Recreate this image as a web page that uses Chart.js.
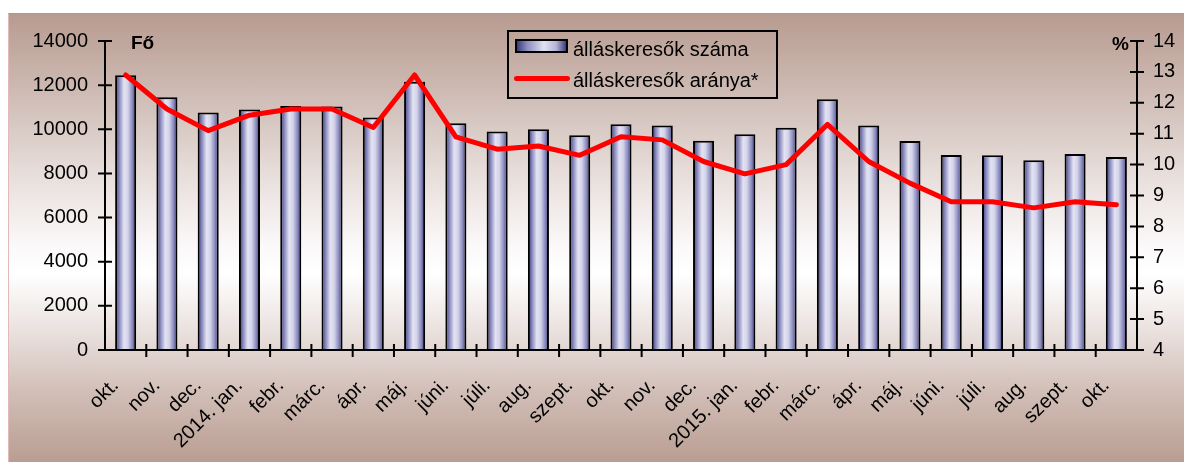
<!DOCTYPE html>
<html>
<head>
<meta charset="utf-8">
<script src="https://cdn.jsdelivr.net/npm/chart.js@4.4.1/dist/chart.umd.min.js"></script>
<style>
  html, body { margin: 0; padding: 0; background: #ffffff; }
  #wrap { position: relative; width: 1184px; height: 462px; overflow: hidden; font-family: "Liberation Sans", Arial, sans-serif; }
  #bg { position: absolute; left: 8px; top: 13px; width: 1176px; height: 449px; box-sizing: border-box;
        border-top: 1px solid #c98c8c; border-left: 1px solid #e2b8b8;
        background: linear-gradient(to bottom, #b89b90 0%, #cdbab3 17%, #e9e0dd 37%, #fbf9f9 52%, #ffffff 58%, #ebe3e0 70%, #d2bfb8 84%, #b99d92 100%); }
  #cv { position: absolute; left: 0; top: 0; }
  .lbl { position: absolute; font-weight: bold; color: #000; font-size: 19px; line-height: 1; }
  #legend { position: absolute; left: 507px; top: 30px; width: 271px; height: 69px; box-sizing: border-box; border: 2px solid #000; }
  .item { position: absolute; left: 0; font-size: 20px; color: #000; line-height: 1; white-space: nowrap; }
  .sw-bar { position: absolute; left: 6px; width: 53px; height: 14px; box-sizing: border-box; border: 2px solid #000;
            background: linear-gradient(to right, #3b3b7c 0%, #8a8abf 20%, #e2e2f2 55%, #b4b4d8 80%, #3b3b7c 100%); }
  .sw-line { position: absolute; left: 5px; width: 56px; height: 5px; border-radius: 3px; background: #ff0000; }
</style>
</head>
<body>
<div id="wrap">
  <div id="bg"></div>
  <canvas id="cv" width="1184" height="462"></canvas>
  <div class="lbl" style="left:131px; top:33px;">Fő</div>
  <div class="lbl" style="left:1112px; top:34px;">%</div>
  <div id="legend">
    <div class="sw-bar" style="top:7px;"></div>
    <div class="item" style="left:64px; top:7px;">álláskeresők száma</div>
    <div class="sw-line" style="top:44px;"></div>
    <div class="item" style="left:64px; top:38px;">álláskeresők aránya*</div>
  </div>
</div>
<script>
const categories = ['okt.','nov.','dec.','2014. jan.','febr.','márc.','ápr.','máj.','júni.','júli.','aug.','szept.','okt.','nov.','dec.','2015. jan.','febr.','márc.','ápr.','máj.','júni.','júli.','aug.','szept.','okt.'];
const jobseekers = [12450, 11450, 10760, 10900, 11050, 11030, 10530, 12150, 10270, 9900, 10000, 9730, 10230, 10170, 9480, 9770, 10070, 11360, 10170, 9470, 8840, 8820, 8600, 8880, 8750];
const rate = [12.9, 11.8, 11.1, 11.6, 11.8, 11.8, 11.2, 12.9, 10.9, 10.5, 10.6, 10.3, 10.9, 10.8, 10.1, 9.7, 10.0, 11.3, 10.1, 9.4, 8.8, 8.8, 8.6, 8.8, 8.7];
const leftTicks = [0, 2000, 4000, 6000, 8000, 10000, 12000, 14000];
const rightTicks = [4, 5, 6, 7, 8, 9, 10, 11, 12, 13, 14];

const FONT = '"Liberation Sans", Arial, sans-serif';
const BAR_PCT = 0.51;

function barGradient(context) {
  const chart = context.chart;
  const xs = chart.scales.x;
  if (!chart.chartArea || !xs) return '#9a9acc';
  const cx = xs.getPixelForValue(context.dataIndex);
  const cw = (chart.chartArea.right - chart.chartArea.left) / categories.length;
  const w = cw * BAR_PCT;
  const g = chart.ctx.createLinearGradient(cx - w / 2, 0, cx + w / 2, 0);
  g.addColorStop(0, '#30306c');
  g.addColorStop(0.18, '#8282b9');
  g.addColorStop(0.42, '#e3e3f3');
  g.addColorStop(0.6, '#d4d4ea');
  g.addColorStop(0.82, '#8a8abf');
  g.addColorStop(1, '#30306c');
  return g;
}

const axesPlugin = {
  id: 'customAxes',
  afterDatasetsDraw(chart) {
    const ctx = chart.ctx;
    const a = chart.chartArea;
    const y = chart.scales.y, y1 = chart.scales.y1, x = chart.scales.x;
    ctx.save();
    ctx.strokeStyle = '#000';
    ctx.lineWidth = 2;
    ctx.beginPath();
    ctx.moveTo(a.left, y.getPixelForValue(leftTicks[leftTicks.length - 1]));
    ctx.lineTo(a.left, y.getPixelForValue(0) + 1);
    leftTicks.forEach(v => { const p = y.getPixelForValue(v); ctx.moveTo(a.left - 7, p); ctx.lineTo(a.left + 7, p); });
    ctx.moveTo(a.right, y1.getPixelForValue(rightTicks[rightTicks.length - 1]));
    ctx.lineTo(a.right, y1.getPixelForValue(rightTicks[0]) + 1);
    rightTicks.forEach(v => { const p = y1.getPixelForValue(v); ctx.moveTo(a.right - 7, p); ctx.lineTo(a.right + 7, p); });
    const base = y.getPixelForValue(0);
    ctx.moveTo(a.left, base);
    ctx.lineTo(a.right, base);
    for (let i = 1; i < categories.length; i++) {
      const p = (x.getPixelForValue(i - 1) + x.getPixelForValue(i)) / 2;
      ctx.moveTo(p, base - 6); ctx.lineTo(p, base + 7);
    }
    ctx.stroke();
    ctx.restore();
  }
};

new Chart(document.getElementById('cv'), {
  data: {
    labels: categories,
    datasets: [
      {
        type: 'line',
        label: 'álláskeresők aránya*',
        data: rate,
        yAxisID: 'y1',
        borderColor: '#ff0000',
        borderWidth: 5,
        pointRadius: 0,
        tension: 0,
        borderCapStyle: 'round',
        borderJoinStyle: 'round',
        order: 0
      },
      {
        type: 'bar',
        label: 'álláskeresők száma',
        data: jobseekers,
        yAxisID: 'y',
        backgroundColor: barGradient,
        borderColor: '#000',
        borderWidth: 2,
        borderSkipped: 'bottom',
        categoryPercentage: 1,
        barPercentage: BAR_PCT,
        order: 1
      }
    ]
  },
  options: {
    responsive: false,
    animation: false,
    events: [],
    layout: { padding: { top: 41, left: 0, right: 0, bottom: 0 } },
    plugins: { legend: { display: false }, tooltip: { enabled: false } },
    scales: {
      x: {
        grid: { display: false, drawTicks: false },
        border: { display: false },
        ticks: { autoSkip: false, maxRotation: 45, minRotation: 45, padding: 24, labelOffset: -10, color: '#000', font: { family: FONT, size: 20 } },
        afterFit(s) { s.height = 112; }
      },
      y: {
        position: 'left',
        min: 0, max: 14000,
        grid: { display: false, drawTicks: false },
        border: { display: false },
        ticks: { stepSize: 2000, padding: 17, color: '#000', font: { family: FONT, size: 20 }, callback: v => String(v) },
        afterFit(s) { s.width = 105; }
      },
      y1: {
        position: 'right',
        min: 4, max: 14,
        grid: { display: false, drawTicks: false },
        border: { display: false },
        ticks: { stepSize: 1, padding: 16, color: '#000', font: { family: FONT, size: 20 }, callback: v => String(v) },
        afterFit(s) { s.width = 47; }
      }
    }
  },
  plugins: [axesPlugin]
});
</script>
</body>
</html>
